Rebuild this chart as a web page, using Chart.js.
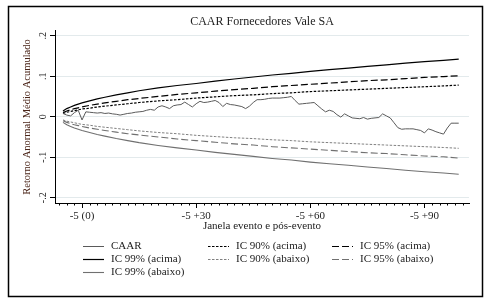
<!DOCTYPE html>
<html>
<head>
<meta charset="utf-8">
<script src="https://cdn.jsdelivr.net/npm/chart.js@4.4.1/dist/chart.umd.min.js"></script>
<style>
    html, body { margin: 0; padding: 0; background: #fff; }
    #wrap { width: 494px; height: 305px; position: relative; }
</style>
</head>
<body>
<div id="wrap"><canvas id="caar-chart"></canvas></div>
<script>
// janela: -5 (0) ... -5 +99
const days = [];
for (let t = -5; t <= 99; t++) days.push(t);

const caar = [
    0.008, 0.004, 0.002, 0.010, 0.016, -0.008, 0.012, 0.011, 0.010, 0.009,
    0.010, 0.008, 0.009, 0.007, 0.006, 0.004, 0.006, 0.008, 0.009, 0.011,
    0.012, 0.013, 0.016, 0.018, 0.016, 0.024, 0.027, 0.024, 0.020, 0.027,
    0.029, 0.030, 0.036, 0.030, 0.024, 0.032, 0.038, 0.035, 0.036, 0.038,
    0.040, 0.035, 0.025, 0.033, 0.030, 0.029, 0.027, 0.025, 0.020, 0.026,
    0.035, 0.042, 0.042, 0.043, 0.045, 0.046, 0.046, 0.046, 0.047, 0.048,
    0.050, 0.040, 0.031, 0.032, 0.033, 0.034, 0.035, 0.027, 0.019, 0.012,
    0.016, 0.013, 0.005, -0.001, 0.007, 0.002, -0.003, -0.004, -0.005, -0.002,
    -0.006, -0.004, -0.003, -0.002, 0.007, 0.002, -0.003, -0.015, -0.027, -0.031,
    -0.030, -0.030, -0.030, -0.032, -0.034, -0.040, -0.030, -0.033, -0.037, -0.040,
    -0.043, -0.028, -0.016, -0.016, -0.016
];

// bandas de confianca (lidas em pontos da janela)
const bandDays = [-5, -4, -3, -2, -1, 0, 2, 4, 6, 9, 12, 15, 20, 25, 30, 35, 40, 45, 50, 55, 60, 65, 70, 75, 80, 85, 90, 95, 99];
const ic99Up = [0.014, 0.020, 0.024, 0.028, 0.031, 0.034, 0.039, 0.044, 0.048, 0.054, 0.059, 0.064, 0.071, 0.077, 0.082, 0.088, 0.093, 0.098, 0.103, 0.107, 0.112, 0.116, 0.120, 0.124, 0.128, 0.132, 0.136, 0.139, 0.142];
const ic95Up = [0.010, 0.014, 0.017, 0.020, 0.022, 0.024, 0.028, 0.031, 0.034, 0.038, 0.042, 0.045, 0.050, 0.055, 0.059, 0.063, 0.067, 0.070, 0.074, 0.077, 0.080, 0.083, 0.086, 0.089, 0.091, 0.094, 0.097, 0.099, 0.101];
const ic90Up = [0.008, 0.011, 0.013, 0.015, 0.017, 0.019, 0.021, 0.024, 0.026, 0.029, 0.032, 0.035, 0.039, 0.042, 0.046, 0.049, 0.052, 0.054, 0.057, 0.059, 0.062, 0.064, 0.066, 0.068, 0.070, 0.072, 0.074, 0.076, 0.078];
const ic90Down = [-0.008, -0.011, -0.013, -0.015, -0.017, -0.019, -0.021, -0.024, -0.026, -0.029, -0.032, -0.035, -0.039, -0.042, -0.046, -0.049, -0.052, -0.054, -0.057, -0.059, -0.062, -0.064, -0.066, -0.068, -0.070, -0.072, -0.074, -0.076, -0.078];
const ic95Down = [-0.010, -0.014, -0.017, -0.020, -0.022, -0.024, -0.028, -0.031, -0.034, -0.038, -0.042, -0.045, -0.050, -0.055, -0.059, -0.063, -0.067, -0.070, -0.074, -0.077, -0.080, -0.083, -0.086, -0.089, -0.091, -0.094, -0.097, -0.099, -0.102];
const ic99Down = [-0.014, -0.020, -0.024, -0.028, -0.031, -0.034, -0.039, -0.044, -0.048, -0.054, -0.059, -0.064, -0.071, -0.077, -0.082, -0.088, -0.093, -0.098, -0.103, -0.107, -0.112, -0.116, -0.120, -0.124, -0.128, -0.132, -0.136, -0.139, -0.142];

const xTicks = [0, 30, 60, 90];
const xTickLabels = ['-5 (0)', '-5 +30', '-5 +60', '-5 +90'];
const yTicks = [-0.2, -0.1, 0, 0.1, 0.2];
const yTickLabels = ['-.2', '-.1', '0', '.1', '.2'];

const serif = '"Liberation Serif", "DejaVu Serif", serif';

function pts(xs, ys) {
    return xs.map((x, i) => ({ x: x, y: ys[i] }));
}

const extras = {
    id: 'extras',
    afterDraw(chart) {
        const ctx = chart.ctx;
        const xs = chart.scales.x;
        const ys = chart.scales.y;
        ctx.save();

        // moldura
        ctx.strokeStyle = '#000';
        ctx.lineWidth = 1.5;
        ctx.strokeRect(8.5, 6.5, 474, 290);

        // titulo
        ctx.fillStyle = '#222';
        ctx.font = '12px ' + serif;
        ctx.textAlign = 'center';
        ctx.textBaseline = 'middle';
        ctx.fillText('CAAR Fornecedores Vale SA', 262, 22);

        // ticks menores no eixo x
        ctx.strokeStyle = '#000';
        ctx.lineWidth = 1;
        ctx.beginPath();
        for (let t = -6; t <= 100; t += 2) {
            if (t % 30 === 0) continue;
            const px = Math.round(xs.getPixelForValue(t)) + 0.5;
            ctx.moveTo(px, xs.top);
            ctx.lineTo(px, xs.top + 2.5);
        }
        ctx.stroke();

        // rotulos do eixo y (rotacionados)
        ctx.fillStyle = '#222';
        ctx.font = '10px ' + serif;
        yTicks.forEach((v, i) => {
            const py = ys.getPixelForValue(v);
            ctx.save();
            ctx.translate(43, py);
            ctx.rotate(-Math.PI / 2);
            ctx.textAlign = 'center';
            ctx.textBaseline = 'middle';
            ctx.fillText(yTickLabels[i], 0, 0);
            ctx.restore();
        });

        // titulo do eixo y
        ctx.save();
        ctx.translate(27, 117);
        ctx.rotate(-Math.PI / 2);
        ctx.fillStyle = '#4a2418';
        ctx.font = '10.5px ' + serif;
        ctx.textAlign = 'center';
        ctx.textBaseline = 'middle';
        ctx.fillText('Retorno Anormal Médio Acumulado', 0, 0);
        ctx.restore();

        // titulo do eixo x
        ctx.fillStyle = '#222';
        ctx.font = '11px ' + serif;
        ctx.textAlign = 'center';
        ctx.fillText('Janela evento e pós-evento', 262, 226);

        // legenda em grade de 3 colunas
        const colX = [83, 208, 332];
        const rowY = [246.5, 259.5, 272.5];
        ctx.font = '11px ' + serif;
        ctx.textAlign = 'left';
        chart.data.datasets.forEach((ds, i) => {
            const c = i % 3;
            const r = Math.floor(i / 3);
            const x0 = colX[c];
            const y0 = rowY[r];
            ctx.save();
            ctx.strokeStyle = ds.borderColor;
            ctx.lineWidth = ds.borderWidth;
            ctx.setLineDash(ds.borderDash || []);
            ctx.beginPath();
            ctx.moveTo(x0, y0);
            ctx.lineTo(x0 + 21, y0);
            ctx.stroke();
            ctx.restore();
            ctx.fillStyle = '#222';
            ctx.fillText(ds.label, x0 + 28, y0);
        });

        ctx.restore();
    }
};

const ctx = document.getElementById('caar-chart').getContext('2d');

new Chart(ctx, {
    type: 'line',
    data: {
        datasets: [
            {
                label: 'CAAR',
                data: pts(days, caar),
                borderColor: '#5a5a5a',
                borderWidth: 1
            },
            {
                label: 'IC 90% (acima)',
                data: pts(bandDays, ic90Up),
                borderColor: '#000000',
                borderWidth: 1.2,
                borderDash: [2.5, 1.5]
            },
            {
                label: 'IC 95% (acima)',
                data: pts(bandDays, ic95Up),
                borderColor: '#000000',
                borderWidth: 1.2,
                borderDash: [7, 3]
            },
            {
                label: 'IC 99% (acima)',
                data: pts(bandDays, ic99Up),
                borderColor: '#000000',
                borderWidth: 1.2
            },
            {
                label: 'IC 90% (abaixo)',
                data: pts(bandDays, ic90Down),
                borderColor: '#808080',
                borderWidth: 1,
                borderDash: [2.5, 1.5]
            },
            {
                label: 'IC 95% (abaixo)',
                data: pts(bandDays, ic95Down),
                borderColor: '#707070',
                borderWidth: 1.1,
                borderDash: [7, 3]
            },
            {
                label: 'IC 99% (abaixo)',
                data: pts(bandDays, ic99Down),
                borderColor: '#707070',
                borderWidth: 1.1
            }
        ]
    },
    options: {
        responsive: true,
        maintainAspectRatio: false,
        animation: false,
        layout: {
            padding: { left: 0, top: 30, right: 25, bottom: 72 }
        },
        elements: {
            point: { radius: 0 },
            line: { tension: 0 }
        },
        scales: {
            x: {
                type: 'linear',
                min: -7.1,
                max: 101.7,
                afterBuildTicks: s => { s.ticks = xTicks.map(v => ({ value: v })); },
                afterFit: s => { s.height = 30; },
                grid: {
                    drawOnChartArea: false,
                    drawTicks: true,
                    tickLength: 5,
                    tickColor: '#000'
                },
                border: { display: true, color: '#000', width: 1 },
                ticks: {
                    autoSkip: false,
                    maxRotation: 0,
                    padding: 2,
                    color: '#222',
                    font: { family: serif, size: 11 },
                    callback: function(value) {
                        const i = xTicks.indexOf(value);
                        return i >= 0 ? xTickLabels[i] : '';
                    }
                }
            },
            y: {
                type: 'linear',
                min: -0.213,
                max: 0.214,
                afterBuildTicks: s => { s.ticks = yTicks.map(v => ({ value: v })); },
                afterFit: s => { s.width = 55; },
                grid: {
                    color: '#e3eaec',
                    drawTicks: true,
                    tickLength: 5,
                    tickColor: '#000'
                },
                border: { display: true, color: '#000', width: 1 },
                ticks: { display: false }
            }
        },
        plugins: {
            legend: { display: false },
            tooltip: { enabled: false }
        }
    },
    plugins: [extras]
});
</script>
</body>
</html>
